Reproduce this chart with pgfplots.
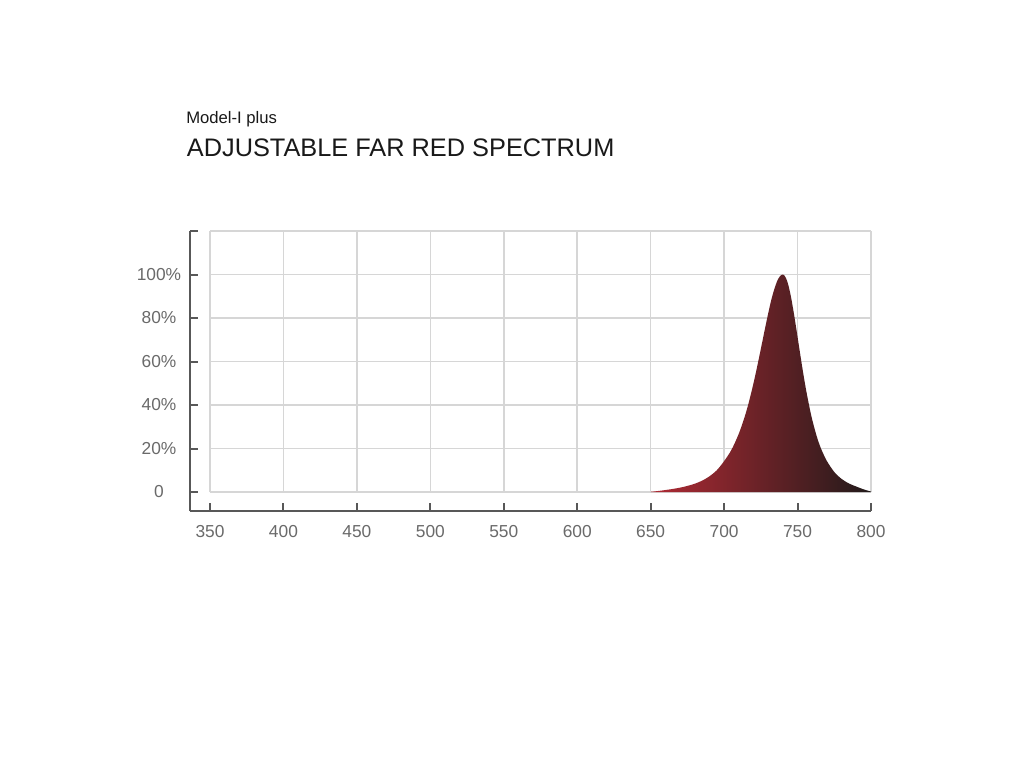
\documentclass[border=0pt]{standalone}
\usepackage{pgfplots}
\pgfplotsset{compat=1.18}
\usepackage{fontspec}
\setmainfont{Liberation Sans}
\definecolor{axisgray}{HTML}{585858}
\definecolor{labgray}{HTML}{6A6A6A}
\definecolor{gridgray}{HTML}{D6D6D6}
\definecolor{redL}{HTML}{B02A34}
\definecolor{redM}{HTML}{6C2A2F}
\definecolor{redR}{HTML}{211A1A}
\begin{document}
\begin{tikzpicture}[x=1pt,y=1pt]
\fill[white] (0,0) rectangle (768,-576);
\node[anchor=base west, inner sep=0pt, text=black!90] at (139.5,-92.5) {\fontsize{12.5}{14}\selectfont Model-I plus};
\node[anchor=base west, inner sep=0pt, text=black!90] at (140,-117.3) {\fontsize{19}{22}\selectfont ADJUSTABLE FAR RED SPECTRUM};
\begin{axis}[
  at={(142.5pt,-383.25pt)}, anchor=south west,
  scale only axis, width=510.75pt, height=210pt,
  xmin=336.38, xmax=800, ymin=-8.74, ymax=120,
  axis x line=bottom, axis y line=left,
  axis line style={-, axisgray, line width=1.5pt},
  xtick={350,400,...,800},
  ytick={0,20,40,60,80,100,120},
  yticklabels={0,20\%,40\%,60\%,80\%,100\%,{}},
  xtick align=inside, ytick align=inside,
  major tick length=6pt,
  tick style={axisgray, line width=1.5pt},
  /pgf/number format/assume math mode=true,
  /pgf/number format/set thousands separator={},
  ticklabel style={font=\fontsize{13}{15}\selectfont, text=labgray},
  yticklabel style={anchor=center, xshift=-23.25pt},
  xticklabel style={anchor=center, yshift=-15.4pt},
  clip=false,
]
\pgfplotsinvokeforeach{350,400,450,500,550,600,650,700,750,800}{
  \draw[gridgray, line width=1.1pt] (axis cs:#1,0) -- (axis cs:#1,120);
}
\pgfplotsinvokeforeach{0,20,40,60,80,100,120}{
  \draw[gridgray, line width=1.1pt] (axis cs:350,#1) -- (axis cs:800,#1);
}
\addplot[draw=none, left color=redL, middle color=redM, right color=redR, smooth, tension=0.5] coordinates {
(650,0.1) (655,0.45) (660,0.9) (665,1.4) (670,2.0) (675,2.8) (680,3.8) (685,5.2)
(690,7.2) (695,10.0) (700,14.2) (705,19.4) (710,26.8) (714,34.6) (717,41.7)
(720,50) (722,56.1) (724,62.5) (726,69.1) (728,75.7) (730,82.1) (732,88.0)
(734,92.9) (736,96.8) (737,98.2) (738,99.2) (739,99.8) (740,100)
(741,99.6) (742,98.5) (743,96.8) (744,94.4) (745,91.4) (746,88.0) (748,80.0)
(750,71.3) (752,62.5) (754,54.0) (756,46.2) (758,39.3) (760,33.2) (763,25.7)
(766,19.9) (770,14.2) (775,9.2) (780,6.0) (785,3.9) (790,2.5) (795,1.2) (800,0.2)
} \closedcycle;
\end{axis}
\end{tikzpicture}
\end{document}
